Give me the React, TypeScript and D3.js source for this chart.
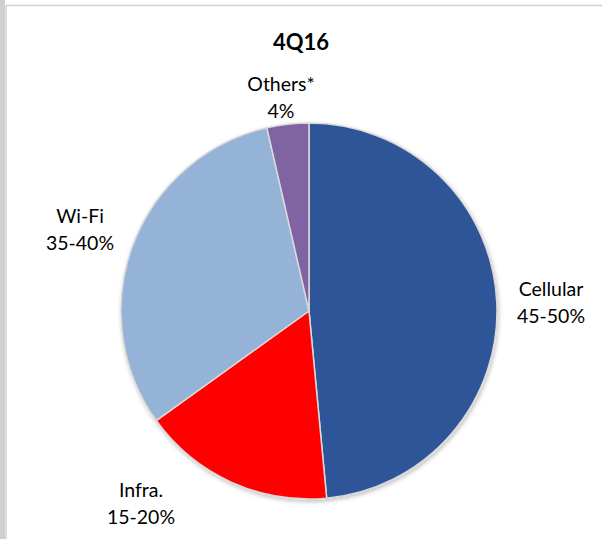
import React, { useEffect, useRef } from 'react';
import * as d3 from 'd3';

// Slice shares (clockwise from 12 o'clock)
const categories = ['Cellular', 'Infra.', 'Wi-Fi', 'Others*'];
const shares = [48.5, 16.6, 31.3, 3.6];
const labelTexts = ['45-50%', '15-20%', '35-40%', '4%'];
const colors = ['#2F5597', '#FF0000', '#95B3D7', '#8064A2'];

// label centres (text boxes), as Excel placed them
const labelCenters: [number, number][] = [
  [551, 303],
  [141, 504],
  [80, 230],
  [281, 98],
];

const W = 602;
const H = 539;

const App = () => {
  const svgRef = useRef<SVGSVGElement>(null);

  useEffect(() => {
    document.body.style.margin = '0';
    const svg = d3.select(svgRef.current);
    svg.selectAll('*').remove();

    const cx = 309;
    const cy = 311;
    const r = 188;

    // frame of the chart area
    svg.append('rect').attr('x', 0).attr('y', 0).attr('width', W).attr('height', H).attr('fill', '#fff');
    svg.append('rect').attr('x', 0).attr('y', 0).attr('width', 5).attr('height', H).attr('fill', '#cfcfcf');
    svg.append('line').attr('x1', 6).attr('x2', W).attr('y1', 5.5).attr('y2', 5.5)
      .attr('stroke', '#d0d0d0').attr('stroke-width', 1.5);
    svg.append('line').attr('x1', 6).attr('x2', 6).attr('y1', 5).attr('y2', H)
      .attr('stroke', '#d0d0d0').attr('stroke-width', 1.5);

    const defs = svg.append('defs');
    const f = defs.append('filter').attr('id', 'shadow')
      .attr('x', '-10%').attr('y', '-10%').attr('width', '120%').attr('height', '120%');
    f.append('feDropShadow').attr('dx', 1).attr('dy', 2).attr('stdDeviation', 2)
      .attr('flood-color', '#000').attr('flood-opacity', 0.25);

    const data = categories.map((c, i) => ({ name: c, value: shares[i], label: labelTexts[i], color: colors[i] }));

    const pie = d3.pie<any>().sort(null).value(d => d.value);
    const arc = d3.arc<any>().innerRadius(0).outerRadius(r);

    const g = svg.append('g').attr('transform', `translate(${cx},${cy})`);
    g.append('g').attr('filter', 'url(#shadow)')
      .selectAll('path')
      .data(pie(data))
      .enter()
      .append('path')
      .attr('d', arc)
      .attr('fill', d => d.data.color)
      .attr('stroke', '#d9d9d9')
      .attr('stroke-width', 1.5)
      .attr('stroke-linejoin', 'round');

    // title
    svg.append('text')
      .attr('x', 301)
      .attr('y', 50)
      .attr('text-anchor', 'middle')
      .style('font-family', 'Lato, "Open Sans", sans-serif')
      .style('font-weight', 'bold')
      .style('font-size', '22px')
      .style('fill', '#000')
      .text('4Q16');

    // data labels
    const lab = svg.append('g')
      .style('font-family', 'Lato, "Open Sans", sans-serif')
      .style('font-size', '19.5px')
      .style('fill', '#000')
      .attr('text-anchor', 'middle');
    data.forEach((d, i) => {
      const [x, y] = labelCenters[i];
      lab.append('text').attr('x', x).attr('y', y - 7).text(d.name);
      lab.append('text').attr('x', x).attr('y', y + 19.5).text(d.label);
    });
  }, []);

  return <svg ref={svgRef} width={W} height={H} style={{ display: 'block' }}></svg>;
};

export default App;
